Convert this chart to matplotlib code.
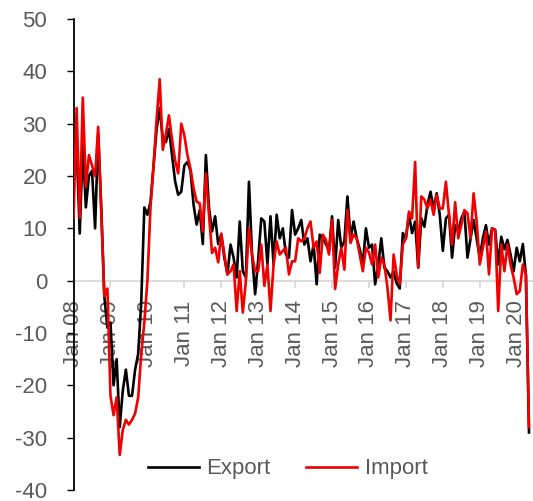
import matplotlib
matplotlib.use("Agg")
import matplotlib.pyplot as plt
import numpy as np

plt.rcParams["font.family"] = ["Liberation Sans", "DejaVu Sans"]
plt.rcParams["axes.unicode_minus"] = False

# ---------------------------------------------------------------------------
# Data: monthly y/y change (%), Jan 08 .. May 20
# ---------------------------------------------------------------------------
export = [
    21, 26, 9, 26, 14, 20, 21, 10, 28, 14, -3, -9,                 # 2008
    -8, -20, -15, -28, -21, -17, -22, -22, -17, -14, -4, 14,       # 2009
    12.6, 15, 22, 29, 33, 27, 26.5, 29, 24, 19, 16.4, 17,          # 2010
    22, 22.7, 21, 14.5, 10.7, 13.5, 7, 24, 14, 9.4, 12.3, 7,       # 2011
    8.8, 4.4, 1.2, 6.9, 4.4, 0.6, 11.3, 1.8, 0.6, 18.9, 5, -2.6,   # 2012
    4, 11.9, 11.3, 3.1, 12.3, 3.1, 12.6, 8.1, 10, 5, 4.4, 13.5,    # 2013
    8.8, 10, 11.6, 6.9, 8.1, 3.7, 6.9, -0.7, 8.8, 8.1, 7, 5.7,     # 2014
    12.3, 2.5, 11.6, 6.3, 7.5, 16.1, 8.1, 11.3, 8.1, 6, 3.1, 10,   # 2015
    6.3, 6.9, -0.7, 3, 8.1, 2.5, 1.8, 0.6, 1.8, -0.5, -1.5, 9.1,   # 2016
    8.1, 12.6, 9.1, 11.3, 2.5, 11.9, 10.3, 14.5, 17, 13.8, 16.7, 12.6,  # 2017
    5.7, 11.9, 12.6, 4.4, 10.6, 9.4, 11.9, 13.2, 4.4, 8, 11.6, 8,  # 2018
    4.4, 8.1, 10.6, 6.9, 10, 9.7, 3.1, 8.4, 6, 7.8, 5, 1.8,        # 2019
    6.3, 3.7, 7, 1, -29,                                           # 2020
]
imports = [
    12, 33, 12, 35, 18, 24, 22, 20, 29.4, 13, -3, -1.5,            # 2008
    -22, -25.7, -22.3, -33.3, -28.5, -26.6, -27.5, -26.6, -25.4, -22.3, -14, -8,  # 2009
    0, 14, 22, 31, 38.5, 25, 28, 31.6, 27, 23, 20.5, 30,           # 2010
    27.8, 24, 21.4, 17.7, 15.1, 14.8, 9.4, 20.5, 12.6, 5.3, 6.3, 3.5,  # 2011
    9, 5, 1.2, 1.8, 3.1, -5.8, 1.8, -6.1, 0, 10, 5, 1.8,           # 2012
    1.8, 6.9, -1, 3.1, -5.8, 3.1, 7.5, 5, 5.7, 6.3, 1.2, 3.7,      # 2013
    3.7, 8.1, 7.5, 8.1, 10, 11.3, 6.3, 7.5, 1.5, 8.8, 7.8, 5,      # 2014
    11.6, -1.6, 3.1, 6.3, 2.1, 13.5, 7.2, 8.8, 8.1, 5, 1.8, 6.3,   # 2015
    5.4, 3.1, 6.9, 0.6, 4.4, 3.1, -1.3, -7.6, 5, 1.2, -0.7, 6.9,   # 2016
    8.1, 13.2, 11.9, 22.7, 2.5, 16.1, 15.5, 13.8, 15.5, 12.6, 16.4, 13.8,  # 2017
    13.8, 18.9, 12.6, 6.9, 15, 8.1, 10.6, 13.5, 12.9, 8.1, 16.7, 11.3,  # 2018
    3.1, 6.3, 9.4, 1.2, 10, 9.7, -5.8, 6.9, 1.8, 6.9, 3.1, 0.6,    # 2019
    -2.6, -2, 3.1, 1.2, -28,                                       # 2020
]
tick_labels = ["Jan 08", "Jan 09", "Jan 10", "Jan 11", "Jan 12", "Jan 13", "Jan 14",
               "Jan 15", "Jan 16", "Jan 17", "Jan 18", "Jan 19", "Jan 20"]
y_ticks = [-40, -30, -20, -10, 0, 10, 20, 30, 40, 50]

GREY = "#595959"
RED = "#f00000"

months = np.arange(len(export))

fig = plt.figure(figsize=(5.33, 5.01), dpi=100)
ax = fig.add_axes([0.138, 0.022, 0.862, 0.940])

ax.plot(months, export, color="black", lw=1.9, label="Export", zorder=3)
ax.plot(months, imports, color=RED, lw=1.9, label="Import", zorder=4)

ax.set_xlim(0, 149.3)
ax.set_ylim(-40, 50)

# y axis
ax.set_yticks(y_ticks)
ax.tick_params(axis="y", direction="out", length=5, width=1.0, colors="black",
               labelcolor=GREY, labelsize=16, pad=14)
ax.spines["left"].set_linewidth(1.3)

# x axis sits on the zero line
ax.spines["bottom"].set_position(("data", 0))
ax.spines["bottom"].set_color("#d9d9d9")
ax.spines["bottom"].set_linewidth(1.3)
ax.spines["bottom"].set_zorder(1)
ax.spines["top"].set_visible(False)
ax.spines["right"].set_visible(False)
ax.set_xticks(np.arange(0, 12 * len(tick_labels), 12))
ax.set_xticklabels(tick_labels, rotation=90, ha="center", va="top")
ax.tick_params(axis="x", direction="out", length=5, width=1.3, colors="#d9d9d9",
               labelcolor=GREY, labelsize=16, pad=9)

leg = ax.legend(loc="center", bbox_to_anchor=(0.54, 0.064),
                bbox_transform=fig.transFigure, ncol=2, frameon=False,
                fontsize=16, handlelength=2.3, handletextpad=0.35,
                columnspacing=1.6, labelcolor=GREY)

fig.savefig("out.png", dpi=100)
